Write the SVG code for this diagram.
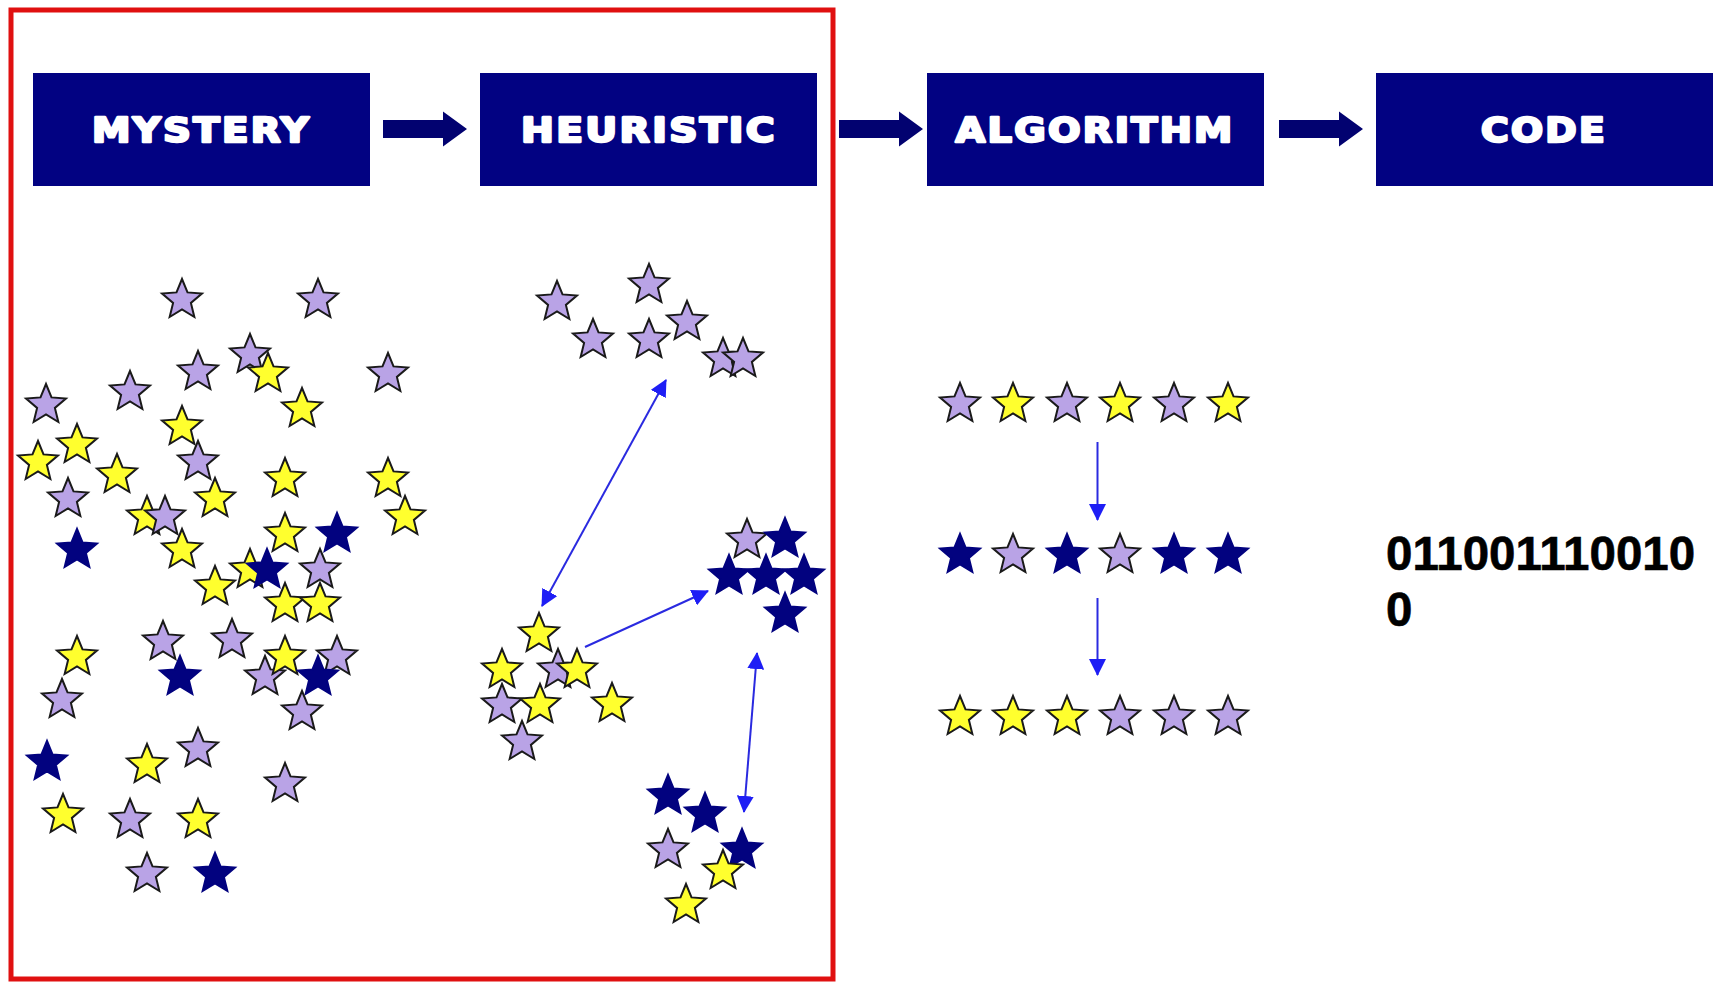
<svg xmlns="http://www.w3.org/2000/svg" xmlns:xlink="http://www.w3.org/1999/xlink" width="1715" height="982" viewBox="0 0 1715 982">
<style>
.box{fill:#020282}
.hd{font-family:"DejaVu Sans","Liberation Sans",sans-serif;font-weight:bold;font-size:33px;fill:#ffffff;stroke:#ffffff;stroke-width:2.4;stroke-linejoin:round;text-anchor:middle;letter-spacing:2px}
.p{fill:#b9a3e6;stroke:#1a1a1a;stroke-width:2;stroke-linejoin:miter}
.y{fill:#ffff2e;stroke:#1a1a1a;stroke-width:2;stroke-linejoin:miter}
.n{fill:#02027f;stroke:#02027f;stroke-width:2;stroke-linejoin:miter}
.blk{fill:#020270}
.ln{stroke:#2a2ae0;stroke-width:2;fill:none}
.bin{font-family:"Liberation Sans",Arial,sans-serif;font-weight:bold;font-size:47.5px;fill:#000000;stroke:#000000;stroke-width:0.6}
</style>
<defs>
<path id="star" d="M0,-21 L5.5,-7.6 L19.97,-6.49 L8.9,2.9 L12.34,16.99 L0,9.4 L-12.34,16.99 L-8.9,2.9 L-19.97,-6.49 L-5.5,-7.6 Z"/>
<path id="barrow" d="M0,-9 L60,-9 L60,-17.5 L84,0 L60,17.5 L60,9 L0,9 Z"/>
<marker id="ah" viewBox="0 0 17 17" refX="16" refY="8.5" markerWidth="17" markerHeight="17" markerUnits="userSpaceOnUse" orient="auto-start-reverse">
<path d="M0,0 L17,8.5 L0,17 Z" fill="#1e1ef5"/>
</marker>
</defs>
<rect x="0" y="0" width="1715" height="982" fill="#ffffff"/>
<rect id="frame" x="11" y="10" width="822" height="969" fill="none" stroke="#e01010" stroke-width="5"/>

<g id="mystery">
<rect class="box" x="33" y="73" width="337" height="113"/>
<text class="hd" x="201.5" y="142" textLength="219" lengthAdjust="spacingAndGlyphs">MYSTERY</text>
</g>
<g id="heuristic">
<rect class="box" x="480" y="73" width="337" height="113"/>
<text class="hd" x="649" y="142" textLength="256" lengthAdjust="spacingAndGlyphs">HEURISTIC</text>
</g>
<g id="algorithm">
<rect class="box" x="927" y="73" width="337" height="113"/>
<text class="hd" x="1095" y="142" textLength="279" lengthAdjust="spacingAndGlyphs">ALGORITHM</text>
</g>
<g id="code">
<rect class="box" x="1376" y="73" width="337" height="113"/>
<text class="hd" x="1544" y="142" textLength="126" lengthAdjust="spacingAndGlyphs">CODE</text>
</g>

<g id="mystery-stars">
<use href="#star" class="p" x="182" y="300"/>
<use href="#star" class="p" x="318" y="300"/>
<use href="#star" class="p" x="250" y="355"/>
<use href="#star" class="y" x="268" y="374"/>
<use href="#star" class="p" x="198" y="372"/>
<use href="#star" class="p" x="388" y="374"/>
<use href="#star" class="p" x="130" y="392"/>
<use href="#star" class="p" x="46" y="405"/>
<use href="#star" class="y" x="302" y="409"/>
<use href="#star" class="y" x="182" y="427"/>
<use href="#star" class="y" x="77" y="445"/>
<use href="#star" class="y" x="38" y="462"/>
<use href="#star" class="p" x="198" y="462"/>
<use href="#star" class="y" x="117" y="475"/>
<use href="#star" class="y" x="285" y="479"/>
<use href="#star" class="y" x="388" y="479"/>
<use href="#star" class="p" x="68" y="499"/>
<use href="#star" class="y" x="215" y="499"/>
<use href="#star" class="y" x="147" y="517"/>
<use href="#star" class="p" x="165" y="517"/>
<use href="#star" class="y" x="405" y="517"/>
<use href="#star" class="y" x="285" y="534"/>
<use href="#star" class="n" x="337" y="534"/>
<use href="#star" class="n" x="77" y="550"/>
<use href="#star" class="y" x="182" y="550"/>
<use href="#star" class="y" x="250" y="570"/>
<use href="#star" class="n" x="267" y="570"/>
<use href="#star" class="p" x="320" y="570"/>
<use href="#star" class="y" x="215" y="587"/>
<use href="#star" class="y" x="285" y="604"/>
<use href="#star" class="y" x="320" y="604"/>
<use href="#star" class="p" x="163" y="642"/>
<use href="#star" class="p" x="232" y="640"/>
<use href="#star" class="y" x="77" y="657"/>
<use href="#star" class="p" x="265" y="677"/>
<use href="#star" class="y" x="285" y="657"/>
<use href="#star" class="p" x="337" y="657"/>
<use href="#star" class="n" x="180" y="677"/>
<use href="#star" class="n" x="318" y="677"/>
<use href="#star" class="p" x="62" y="700"/>
<use href="#star" class="p" x="302" y="712"/>
<use href="#star" class="p" x="198" y="749"/>
<use href="#star" class="n" x="47" y="762"/>
<use href="#star" class="y" x="147" y="765"/>
<use href="#star" class="p" x="285" y="784"/>
<use href="#star" class="y" x="63" y="815"/>
<use href="#star" class="p" x="130" y="820"/>
<use href="#star" class="y" x="198" y="820"/>
<use href="#star" class="p" x="147" y="874"/>
<use href="#star" class="n" x="215" y="874"/>
</g>

<g id="cluster-purple">
<use href="#star" class="p" x="557" y="302"/>
<use href="#star" class="p" x="649" y="285"/>
<use href="#star" class="p" x="593" y="340"/>
<use href="#star" class="p" x="649" y="340"/>
<use href="#star" class="p" x="687" y="322"/>
<use href="#star" class="p" x="723" y="359"/>
<use href="#star" class="p" x="743" y="359"/>
</g>
<g id="cluster-navy">
<use href="#star" class="p" x="747" y="540"/>
<use href="#star" class="n" x="785" y="539"/>
<use href="#star" class="n" x="729" y="576"/>
<use href="#star" class="n" x="766" y="576"/>
<use href="#star" class="n" x="804" y="576"/>
<use href="#star" class="n" x="785" y="614"/>
</g>
<g id="cluster-yellow">
<use href="#star" class="y" x="539" y="634"/>
<use href="#star" class="y" x="502" y="670"/>
<use href="#star" class="p" x="558" y="670"/>
<use href="#star" class="y" x="577" y="670"/>
<use href="#star" class="p" x="502" y="705"/>
<use href="#star" class="y" x="540" y="705"/>
<use href="#star" class="y" x="612" y="704"/>
<use href="#star" class="p" x="522" y="742"/>
</g>
<g id="cluster-mixed">
<use href="#star" class="n" x="668" y="796"/>
<use href="#star" class="n" x="705" y="814"/>
<use href="#star" class="p" x="668" y="850"/>
<use href="#star" class="n" x="742" y="850"/>
<use href="#star" class="y" x="723" y="871"/>
<use href="#star" class="y" x="686" y="905"/>
</g>

<g id="row1">
<use href="#star" class="p" x="960" y="404"/>
<use href="#star" class="y" x="1013" y="404"/>
<use href="#star" class="p" x="1067" y="404"/>
<use href="#star" class="y" x="1120" y="404"/>
<use href="#star" class="p" x="1174" y="404"/>
<use href="#star" class="y" x="1228" y="404"/>
</g>
<g id="row2">
<use href="#star" class="n" x="960" y="555"/>
<use href="#star" class="p" x="1013" y="555"/>
<use href="#star" class="n" x="1067" y="555"/>
<use href="#star" class="p" x="1120" y="555"/>
<use href="#star" class="n" x="1174" y="555"/>
<use href="#star" class="n" x="1228" y="555"/>
</g>
<g id="row3">
<use href="#star" class="y" x="960" y="717"/>
<use href="#star" class="y" x="1013" y="717"/>
<use href="#star" class="y" x="1067" y="717"/>
<use href="#star" class="p" x="1120" y="717"/>
<use href="#star" class="p" x="1174" y="717"/>
<use href="#star" class="p" x="1228" y="717"/>
</g>

<g id="binary">
<text class="bin" x="1386" y="570">011001110010</text>
<text class="bin" x="1386" y="626">0</text>
</g>

<g id="connectors">
<use href="#barrow" class="blk" x="383" y="129"/>
<use href="#barrow" class="blk" x="839" y="129"/>
<use href="#barrow" class="blk" x="1279" y="129"/>
<line class="ln" x1="666" y1="380" x2="542" y2="606" marker-start="url(#ah)" marker-end="url(#ah)"/>
<line class="ln" x1="585" y1="647" x2="708" y2="591" marker-end="url(#ah)"/>
<line class="ln" x1="757" y1="653" x2="744" y2="812" marker-start="url(#ah)" marker-end="url(#ah)"/>
<line class="ln" x1="1097.5" y1="442" x2="1097.5" y2="520" marker-end="url(#ah)"/>
<line class="ln" x1="1097.5" y1="598" x2="1097.5" y2="675" marker-end="url(#ah)"/>
</g>
</svg>
